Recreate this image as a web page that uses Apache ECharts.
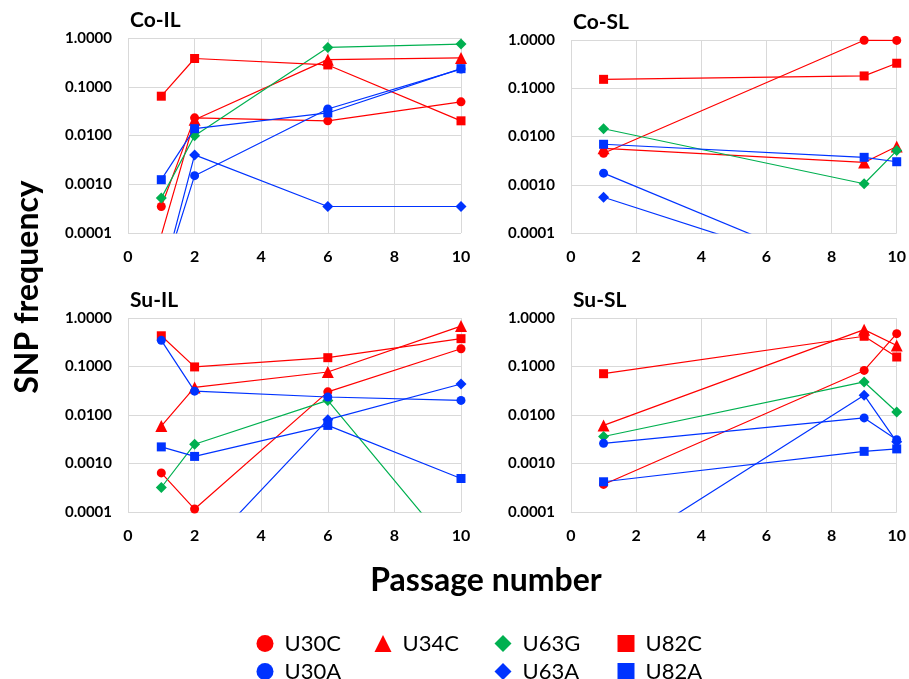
<!DOCTYPE html>
<html>
<head>
<meta charset="utf-8">
<script src="https://cdn.jsdelivr.net/npm/echarts@6/dist/echarts.min.js"></script>
<style>
html,body{margin:0;padding:0;background:#fff;}
#chart{width:909px;height:679px;}
</style>
</head>
<body>
<div id="chart"></div>
<script>
// Passage numbers (x values)
const passagesIL = [1, 2, 6, 10];
const passagesSL = [1, 9, 10];
const xTicks = [0, 2, 4, 6, 8, 10];
const yTicks = [0.0001, 0.001, 0.01, 0.1, 1];

// Co-IL
const coIL_U30C = [0.00035, 0.023, 0.020, 0.049];
const coIL_U30A = [0.00001, 0.0015, 0.035, 0.23];
const coIL_U34C = [0.00009, 0.021, 0.36, 0.39];
const coIL_U63G = [0.00052, 0.0099, 0.64, 0.75];
const coIL_U63A = [0.00001, 0.0040, 0.00035, 0.00035];
const coIL_U82C = [0.064, 0.38, 0.28, 0.020];
const coIL_U82A = [0.00124, 0.0138, 0.029, 0.235];

// Co-SL
const coSL_U30C = [0.0045, 0.99, 0.98];
const coSL_U30A = [0.00174, 0.00001, null];
const coSL_U34C = [0.0057, 0.0029, 0.0062];
const coSL_U63G = [0.0145, 0.00105, 0.0051];
const coSL_U63A = [0.00055, 0.00001, null];
const coSL_U82C = [0.153, 0.18, 0.33];
const coSL_U82A = [0.0069, 0.0037, 0.0030];

// Su-IL
const suIL_U30C = [0.00064, 0.000115, 0.030, 0.232];
const suIL_U30A = [0.346, 0.031, 0.0235, 0.020];
const suIL_U34C = [0.0059, 0.037, 0.077, 0.68];
const suIL_U63G = [0.00032, 0.0025, 0.020, 0.00001];
const suIL_U63A = [0.00001, 0.00001, 0.0080, 0.0436];
const suIL_U82C = [0.43, 0.098, 0.152, 0.375];
const suIL_U82A = [0.0022, 0.0014, 0.0061, 0.00049];

// Su-SL
const suSL_U30C = [0.00037, 0.083, 0.475];
const suSL_U30A = [0.0026, 0.0087, 0.0031];
const suSL_U34C = [0.0061, 0.575, 0.27];
const suSL_U63G = [0.0036, 0.048, 0.0115];
const suSL_U63A = [0.00001, 0.0256, 0.0028];
const suSL_U82C = [0.071, 0.42, 0.157];
const suSL_U82A = [0.00042, 0.00178, 0.0020];

const mutations = ['U30C', 'U30A', 'U34C', 'U63G', 'U63A', 'U82C', 'U82A'];
const RED = '#FF0000', BLUE = '#0033FF', GREEN = '#00B050';
const colorOf = {U30C: RED, U30A: BLUE, U34C: RED, U63G: GREEN, U63A: BLUE, U82C: RED, U82A: BLUE};
const symbolOf = {U30C: 'circle', U30A: 'circle', U34C: 'triangle', U63G: 'diamond', U63A: 'diamond', U82C: 'rect', U82A: 'rect'};
const sizeOf = {circle: 9, triangle: 12, diamond: 11, rect: 9};

const panels = [
  {title: 'Co-IL', x: passagesIL, grid: {left: 128, top: 38, width: 333, height: 195},
   v: {U30C: coIL_U30C, U30A: coIL_U30A, U34C: coIL_U34C, U63G: coIL_U63G, U63A: coIL_U63A, U82C: coIL_U82C, U82A: coIL_U82A}},
  {title: 'Co-SL', x: passagesSL, grid: {left: 571, top: 40, width: 331, height: 193},
   v: {U30C: coSL_U30C, U30A: coSL_U30A, U34C: coSL_U34C, U63G: coSL_U63G, U63A: coSL_U63A, U82C: coSL_U82C, U82A: coSL_U82A}},
  {title: 'Su-IL', x: passagesIL, grid: {left: 128, top: 318, width: 333, height: 194},
   v: {U30C: suIL_U30C, U30A: suIL_U30A, U34C: suIL_U34C, U63G: suIL_U63G, U63A: suIL_U63A, U82C: suIL_U82C, U82A: suIL_U82A}},
  {title: 'Su-SL', x: passagesSL, grid: {left: 571, top: 318, width: 331, height: 194},
   v: {U30C: suSL_U30C, U30A: suSL_U30A, U34C: suSL_U34C, U63G: suSL_U63G, U63A: suSL_U63A, U82C: suSL_U82C, U82A: suSL_U82A}}
];

const FONT = 'Lato, "Open Sans", sans-serif';
const gridCol = '#d9d9d9';

const grids = [], xAxes = [], yAxes = [], series = [], titles = [];
panels.forEach((p, i) => {
  grids.push(Object.assign({containLabel: false}, p.grid));
  titles.push({text: p.title, left: p.grid.left + 2, top: p.grid.top - 28, padding: 0,
    textStyle: {fontFamily: FONT, fontWeight: 'bold', fontSize: 21, color: '#000'}});
  xAxes.push({type: 'value', gridIndex: i, min: xTicks[0], max: xTicks[xTicks.length - 1], interval: 2,
    axisLine: {show: false}, axisTick: {show: false},
    splitLine: {show: true, lineStyle: {color: gridCol, width: 1}},
    axisLabel: {margin: 16, color: '#000', fontFamily: FONT, fontWeight: 'bold', fontSize: 16}});
  yAxes.push({type: 'log', logBase: 10, gridIndex: i, min: yTicks[0], max: yTicks[yTicks.length - 1],
    axisLine: {show: false}, axisTick: {show: false},
    splitLine: {show: true, lineStyle: {color: gridCol, width: 1}},
    axisLabel: {margin: 16, color: '#000', fontFamily: FONT, fontWeight: 'bold', fontSize: 15,
      formatter: v => Number(v).toFixed(4)}});
  mutations.forEach(m => {
    const vals = p.v[m];
    const data = [];
    p.x.forEach((xv, k) => { if (vals[k] != null) data.push([xv, vals[k]]); });
    const sym = symbolOf[m];
    series.push({
      type: 'line', name: m, xAxisIndex: i, yAxisIndex: i, data: data,
      symbol: sym, symbolSize: sizeOf[sym], showSymbol: true, clip: true,
      lineStyle: {color: colorOf[m], width: 1.2},
      itemStyle: {color: colorOf[m]},
      z: (m === 'U30A' || m === 'U63A' || m === 'U82A') ? 3 : 2
    });
  });
});

const legendPos = [
  {name: 'U30C', cx: 265, cy: 641},
  {name: 'U34C', cx: 383, cy: 641},
  {name: 'U63G', cx: 503, cy: 641},
  {name: 'U82C', cx: 626, cy: 641},
  {name: 'U30A', cx: 265, cy: 669},
  {name: 'U63A', cx: 503, cy: 669},
  {name: 'U82A', cx: 626, cy: 669}
];
const legends = legendPos.map(l => ({
  data: [{name: l.name, icon: symbolOf[l.name]}],
  left: l.cx - 8.5, top: l.cy - 8.5, padding: 0, itemWidth: 17, itemHeight: 17, itemGap: 0,
  textStyle: {fontFamily: FONT, fontSize: 22, color: '#000', padding: [0, 0, 0, 6]}
}));

const chart = echarts.init(document.getElementById('chart'), null, {renderer: 'canvas'});
chart.setOption({
  animation: false,
  backgroundColor: '#fff',
  title: titles,
  grid: grids,
  xAxis: xAxes,
  yAxis: yAxes,
  legend: legends,
  series: series,
  graphic: [
    {type: 'text', x: 28, y: 287, rotation: Math.PI / 2,
     style: {text: 'SNP frequency', font: 'bold 32px ' + FONT, fill: '#000', textAlign: 'center', textVerticalAlign: 'middle'}},
    {type: 'text', x: 486, y: 581,
     style: {text: 'Passage number', font: 'bold 32px ' + FONT, fill: '#000', textAlign: 'center', textVerticalAlign: 'middle'}}
  ]
});
</script>
</body>
</html>
